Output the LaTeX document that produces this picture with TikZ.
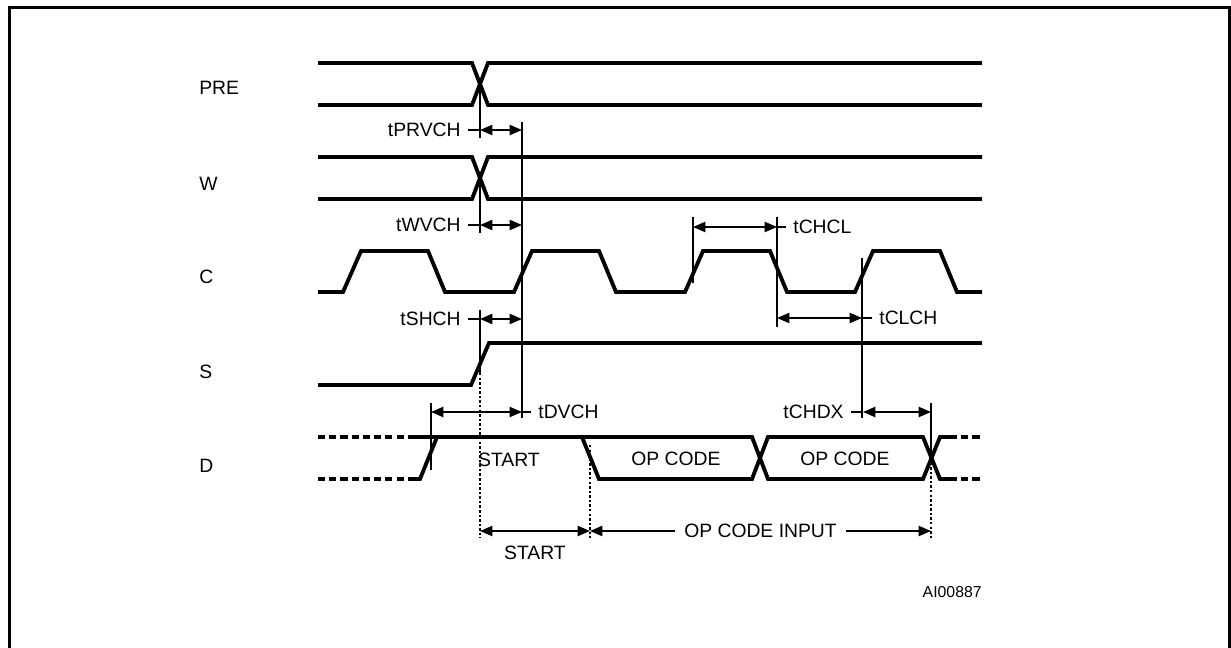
\documentclass[tikz,border=0pt]{standalone}
\usepackage{fontspec}
\setmainfont{Liberation Sans}
\usetikzlibrary{arrows.meta}

\tikzset{
    wave/.style={line width=2.2pt},
    dontcare/.style={line width=2.2pt, dash pattern=on 4pt off 2.4pt},
    marker/.style={line width=1.1pt},
    guide/.style={line width=1.4pt, dash pattern=on 1.4pt off 1.2pt},
    dim/.style={line width=0.8pt, {Triangle[length=7pt,width=5.8pt]}-{Triangle[length=7pt,width=5.8pt]}},
    lead/.style={line width=0.8pt},
    sig/.style={anchor=west, inner sep=0pt},
    tlabel/.style={inner sep=4pt}
}

\begin{document}
\begin{tikzpicture}[x=0.02cm, y=-0.02cm, font=\fontsize{11}{13}\selectfont]
    \clip (0,0) rectangle (1231,648);
    \draw[line width=1.7pt] (9.5,7.5) rectangle (1229.5,700);

    % signal names
    \node[sig] (pre) at (199,88) {PRE};
    \node[sig] (w) at (199,184) {W};
    \node[sig] (c) at (199,277) {C};
    \node[sig] (s) at (199,372) {S};
    \node[sig] (d) at (199,466) {D};

    % PRE and W
    \foreach \hi/\lo in {63/105, 157/199} {
        \draw[wave] (318,\hi) -- (472,\hi) -- (488,\lo) -- (982,\lo);
        \draw[wave] (318,\lo) -- (472,\lo) -- (488,\hi) -- (982,\hi);
    }

    % C
    \draw[wave] (318,292)
        foreach \x in {343,514,685,855} { -- (\x,292) -- (\x+18,251) -- (\x+85,251) -- (\x+102,292) }
        -- (982,292);

    % S
    \draw[wave] (318,385) -- (471,385) -- (489,343) -- (982,343);

    % D
    \draw[dontcare] (318,437) -- (412,437);
    \draw[dontcare] (318,479) -- (412,479);
    \draw[wave] (412,479) -- (420,479) -- (437,437);
    \draw[wave] (412,437) -- (752,437) -- (768,479) -- (923,479) -- (940,437) -- (950,437);
    \draw[wave] (582,437) -- (599,479) -- (752,479) -- (768,437) -- (923,437) -- (940,479) -- (950,479);
    \draw[dontcare] (950,437) -- (982,437);
    \draw[dontcare] (950,479) -- (982,479);
    \node (start) at (509,460) {START};
    \node (op1) at (676,459) {OP CODE};
    \node (op2) at (845,459) {OP CODE};

    % edge markers
    \draw[marker] (480,84) -- (480,138);
    \draw[marker] (480,178) -- (480,233);
    \draw[marker] (522,122) -- (522,418);
    \draw[marker] (480,310) -- (480,373);
    \draw[marker] (431,403) -- (431,470);
    \draw[marker] (693,217) -- (693,283);
    \draw[marker] (777,217) -- (777,327);
    \draw[marker] (862,258) -- (862,418);
    \draw[marker] (931,403) -- (931,458);
    \draw[guide] (480,373) -- (480,538);
    \draw[guide] (590,445) -- (590,538);
    \draw[guide] (931,458) -- (931,538);

    % timings
    \node[tlabel, anchor=east] (tprvch) at (468,130) {tPRVCH};
    \draw[lead] (tprvch.east) -- (480,130);
    \draw[dim] (480,130) -- (522,130);

    \node[tlabel, anchor=east] (twvch) at (468,225) {tWVCH};
    \draw[lead] (twvch.east) -- (480,225);
    \draw[dim] (480,225) -- (522,225);

    \node[tlabel, anchor=east] (tshch) at (468,319) {tSHCH};
    \draw[lead] (tshch.east) -- (480,319);
    \draw[dim] (480,319) -- (522,319);

    \node[tlabel, anchor=west] (tdvch) at (531,412) {tDVCH};
    \draw[lead] (522,412) -- (tdvch.west);
    \draw[dim] (431,412) -- (522,412);

    \node[tlabel, anchor=west] (tchcl) at (786,227) {tCHCL};
    \draw[lead] (777,227) -- (tchcl.west);
    \draw[dim] (693,227) -- (777,227);

    \node[tlabel, anchor=west] (tclch) at (872,318) {tCLCH};
    \draw[lead] (862,318) -- (tclch.west);
    \draw[dim] (777,318) -- (862,318);

    \node[tlabel, anchor=east] (tchdx) at (851,412) {tCHDX};
    \draw[lead] (tchdx.east) -- (863,412);
    \draw[dim] (863,412) -- (931,412);

    % phases
    \draw[dim] (480,531) -- (590,531);
    \node (startph) at (535,553) {START};
    \draw[dim] (590,531) -- (931,531) node[midway, fill=white, inner sep=5pt] (opin) {OP CODE INPUT};

    \node[anchor=east, inner sep=0pt, font=\fontsize{9}{11}\selectfont] (ref) at (982,592) {AI00887};
\end{tikzpicture}
\end{document}
